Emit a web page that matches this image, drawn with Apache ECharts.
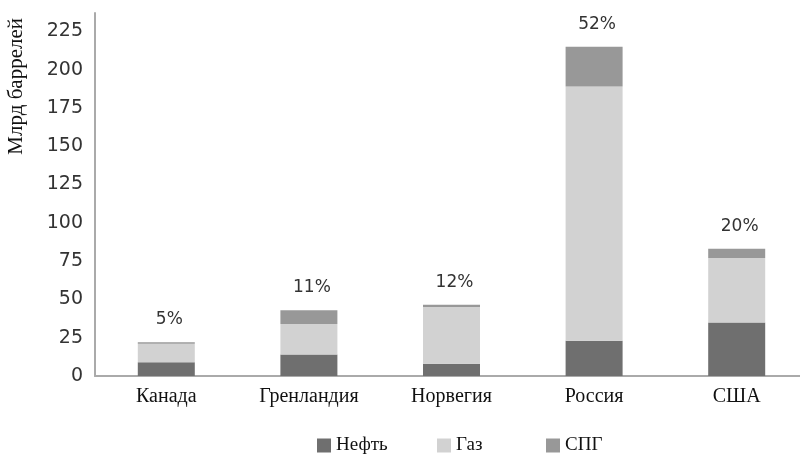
<!DOCTYPE html>
<html>
<head>
<meta charset="utf-8">
<script src="https://cdn.jsdelivr.net/npm/echarts@6/dist/echarts.min.js"></script>
<style>
  html, body { margin: 0; padding: 0; background: #fff; overflow: hidden; }
  #main { width: 808px; height: 454px; }
</style>
</head>
<body>
<div id="main"></div>
<script>
// данные
var countries = ['Канада', 'Гренландия', 'Норвегия', 'Россия', 'США']
var oil = [9, 14, 8, 23, 35]
var gas = [12, 20, 37, 166, 42]
var lng = [1, 9, 1.5, 26, 6]
var shares = ['5%', '11%', '12%', '52%', '20%']
var yTicks = [0, 25, 50, 75, 100, 125, 150, 175, 200, 225]

var chart = echarts.init(document.getElementById('main'))

var serif = '"Liberation Serif", "DejaVu Serif", serif'
var sans = '"DejaVu Sans", Verdana, sans-serif'

function legendItem (name, left) {
  return {
    data: [name],
    left: left,
    top: 436,
    padding: 0,
    itemWidth: 14,
    itemHeight: 14,
    itemGap: 0,
    icon: 'rect',
    textStyle: { fontFamily: serif, fontSize: 19, color: '#111' }
  }
}

chart.setOption({
  animation: false,
  grid: { left: 95, top: 13, right: 0, bottom: 78 },
  graphic: [{
    type: 'text',
    left: 6,
    top: 18,
    rotation: Math.PI / 2,
    style: { text: 'Млрд баррелей', font: '21px ' + serif, fill: '#111' }
  }],
  legend: [
    legendItem('Нефть', 317),
    legendItem('Газ', 437),
    legendItem('СПГ', 546)
  ],
  xAxis: {
    type: 'category',
    data: countries,
    axisLine: { lineStyle: { color: '#aaa', width: 2 } },
    axisTick: { show: false },
    axisLabel: { fontFamily: serif, fontSize: 20, color: '#111', margin: 11 }
  },
  yAxis: {
    type: 'value',
    min: 0,
    max: 237,
    interval: 25,
    axisLine: { show: true, lineStyle: { color: '#aaa', width: 2 } },
    axisTick: { show: false },
    splitLine: { show: false },
    axisLabel: {
      showMaxLabel: false,
      fontFamily: sans, fontSize: 19, color: '#333', margin: 12,
      formatter: function (v) { return yTicks.indexOf(v) >= 0 ? v : '' }
    }
  },
  series: [
    { name: 'Нефть', type: 'bar', stack: 'a', barWidth: 57, data: oil, itemStyle: { color: '#6f6f6f' } },
    { name: 'Газ', type: 'bar', stack: 'a', data: gas, itemStyle: { color: '#d2d2d2' } },
    {
      name: 'СПГ', type: 'bar', stack: 'a', data: lng, itemStyle: { color: '#989898' },
      label: {
        show: true, position: 'top', distance: 14, offset: [3, 0],
        fontFamily: sans, fontSize: 17, color: '#333',
        formatter: function (p) { return shares[p.dataIndex] }
      }
    }
  ]
})
</script>
</body>
</html>
